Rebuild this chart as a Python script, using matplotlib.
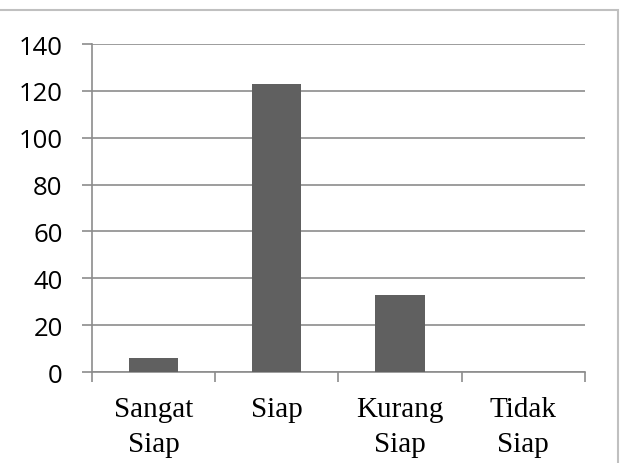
import numpy as np
import matplotlib.pyplot as plt
from matplotlib.patches import Rectangle

kategori = ["Sangat\nSiap", "Siap", "Kurang\nSiap", "Tidak\nSiap"]
jumlah = [6, 123, 33, 0]
yticks = [0, 20, 40, 60, 80, 100, 120, 140]

fig = plt.figure(figsize=(6.21, 4.64), dpi=100)
ax = fig.add_axes([0.148, 0.196, 0.794, 0.707])

x = np.arange(len(kategori))
ax.bar(x, jumlah, width=0.4, color="#606060", zorder=3)

ax.set_xlim(-0.5, len(kategori) - 0.5)
ax.set_ylim(0, 140)
ax.set_yticks(yticks)
ax.set_yticklabels([str(v) for v in yticks], family="Open Sans", fontsize=18.5)
ax.yaxis.grid(True, color="#8c8c8c", linewidth=1.2, zorder=0)

# ticks di batas kategori, label di tengah
ax.set_xticks(np.arange(len(kategori) + 1) - 0.5)
ax.set_xticklabels([])
ax.set_xticks(x, minor=True)
ax.set_xticklabels(kategori, minor=True, family="Liberation Serif", fontsize=21,
                   linespacing=1.45)
ax.tick_params(axis="x", which="major", length=7, color="#8c8c8c", width=1.2)
ax.tick_params(axis="x", which="minor", length=0, pad=17)
ax.tick_params(axis="y", length=7, color="#8c8c8c", width=1.2, pad=14)

for s in ["top", "right"]:
    ax.spines[s].set_visible(False)
for s in ["left", "bottom"]:
    ax.spines[s].set_color("#8c8c8c")
    ax.spines[s].set_linewidth(1.2)

# bingkai luar
fig.patches.append(Rectangle((-0.01, -0.01), 1.005, 0.986, transform=fig.transFigure,
                             fill=False, edgecolor="#c0c0c0", linewidth=1.5))

fig.savefig("out.png", dpi=100)
